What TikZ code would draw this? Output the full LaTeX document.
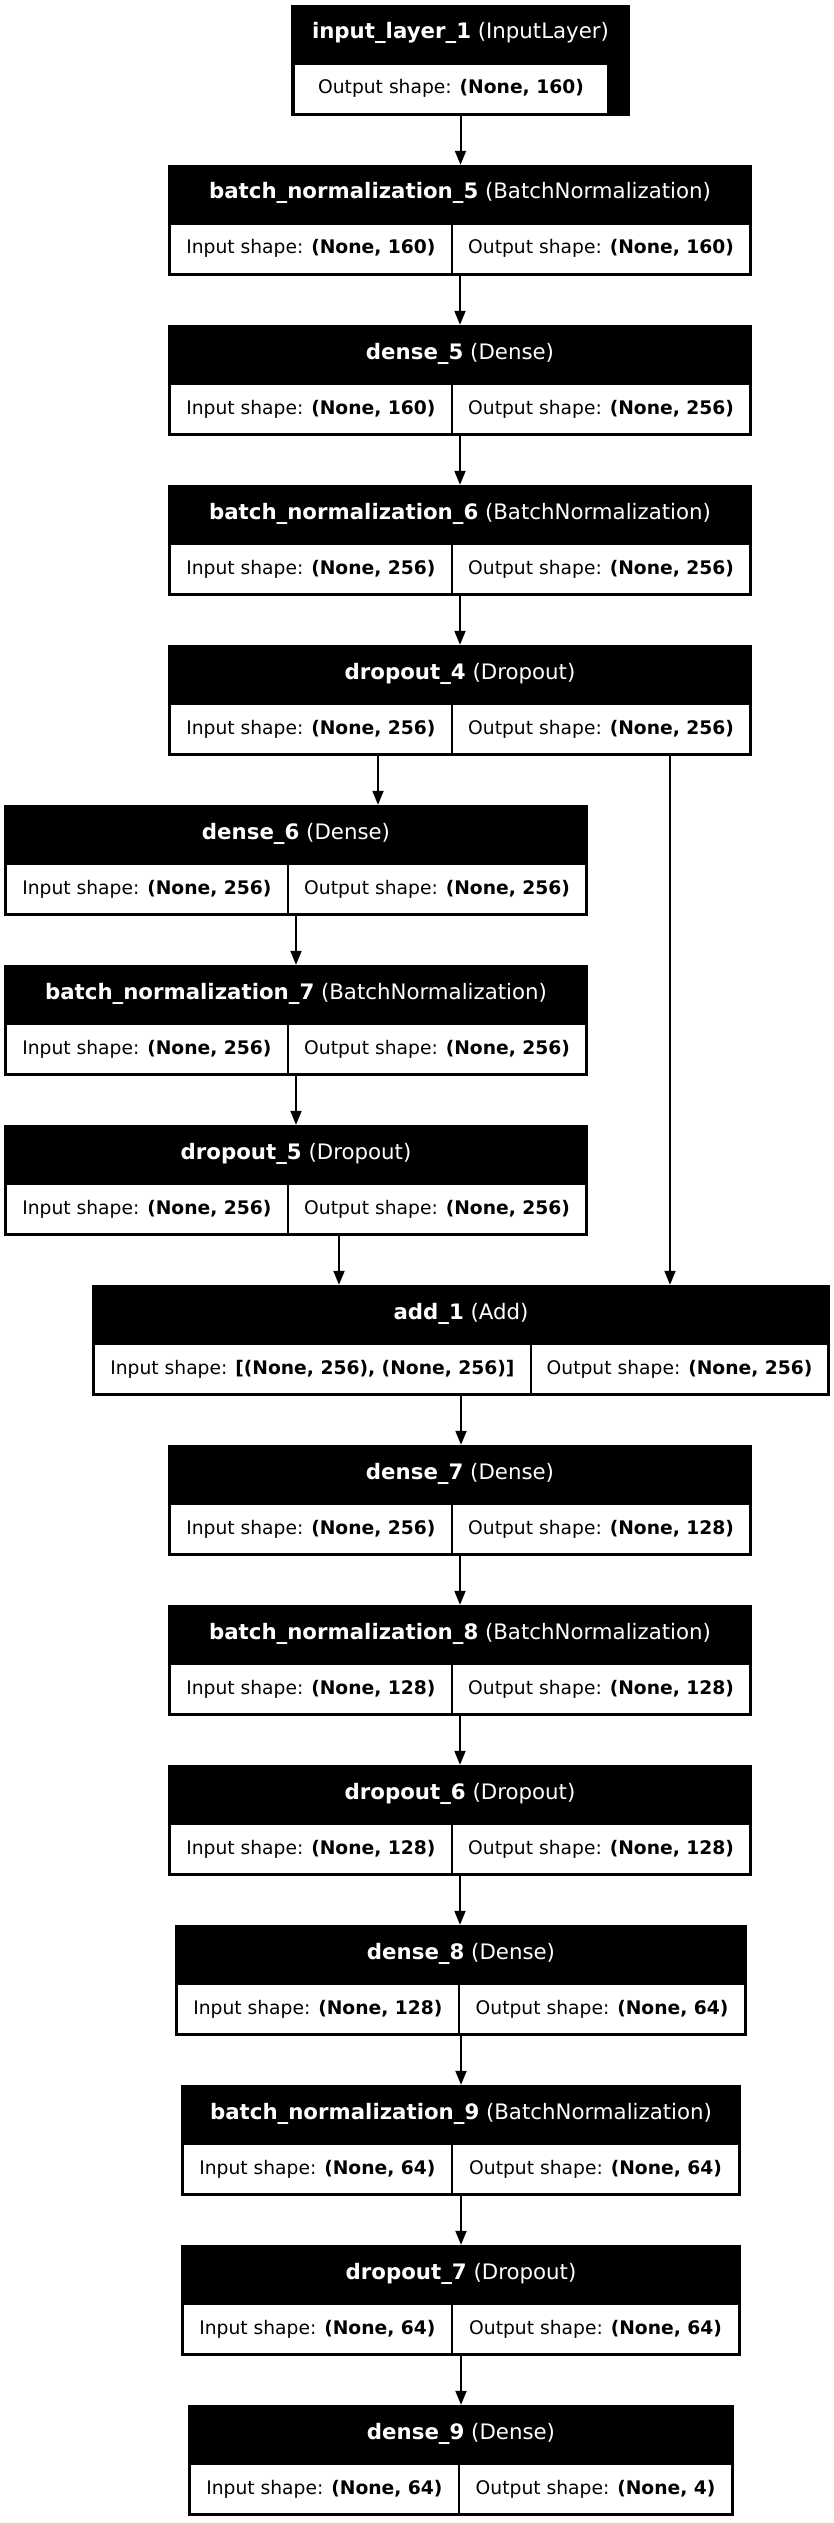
\documentclass[tikz,border=0pt]{standalone}
\usepackage{fontspec}
\setmainfont{DejaVu Sans}
\usetikzlibrary{arrows.meta}

% one keras layer: name, left, right, split, top, layer, type, input, output
\newcommand{\layer}[9]{%
\node[lyr, minimum width={#3-#2}] (#1) at ({(#2+#3)/2},{#5+55.5}) {};
\node[ttl] (#1-t) at ({(#2+#3)/2},{#5+34}) {\textbf{#6} (#7)};
\node[cell, minimum width={#4-1.2-#2-3}] (#1-i) at ({(#2+3+#4-1.2)/2},{#5+84}) {Input shape: \textbf{#8}};
\node[cell, minimum width={#3-3-#4-1.2}] (#1-o) at ({(#4+1.2+#3-3)/2},{#5+84}) {Output shape: \textbf{#9}};
}

\begin{document}
\begin{tikzpicture}[x=1pt,y=-1pt,
  lyr/.style={fill=black, inner sep=0pt, minimum height=111pt},
  ttl/.style={text=white, anchor=base, inner sep=0pt, font=\fontsize{21.3}{24}\selectfont},
  cell/.style={fill=white, inner sep=0pt, minimum height=48pt, text height=14pt, text depth=4pt, font=\fontsize{18.7}{22}\selectfont},
  arr/.style={line width=2pt, -{Triangle[length=14pt,width=11pt]}}]
\useasboundingbox (0,0) rectangle (834,2523);

\node[lyr, minimum width=339] (in1) at (460.5,60.5) {};
\node[ttl] (in1-t) at (460.5,39) {\textbf{input\_layer\_1} (InputLayer)};
\node[cell, minimum width=312] (in1-o) at (451,89) {Output shape: \textbf{(None, 160)}};

\layer{bn5}{168}{752}{452}{165}{batch\_normalization\_5}{BatchNormalization}{(None, 160)}{(None, 160)}
\layer{de5}{168}{752}{452}{325}{dense\_5}{Dense}{(None, 160)}{(None, 256)}
\layer{bn6}{168}{752}{452}{485}{batch\_normalization\_6}{BatchNormalization}{(None, 256)}{(None, 256)}
\layer{dr4}{168}{752}{452}{645}{dropout\_4}{Dropout}{(None, 256)}{(None, 256)}
\layer{de6}{4}{588}{288}{805}{dense\_6}{Dense}{(None, 256)}{(None, 256)}
\layer{bn7}{4}{588}{288}{965}{batch\_normalization\_7}{BatchNormalization}{(None, 256)}{(None, 256)}
\layer{dr5}{4}{588}{288}{1125}{dropout\_5}{Dropout}{(None, 256)}{(None, 256)}
\layer{add1}{92}{830}{531}{1285}{add\_1}{Add}{[(None, 256), (None, 256)]}{(None, 256)}
\layer{de7}{168}{752}{452}{1445}{dense\_7}{Dense}{(None, 256)}{(None, 128)}
\layer{bn8}{168}{752}{452}{1605}{batch\_normalization\_8}{BatchNormalization}{(None, 128)}{(None, 128)}
\layer{dr6}{168}{752}{452}{1765}{dropout\_6}{Dropout}{(None, 128)}{(None, 128)}
\layer{de8}{175}{747}{459}{1925}{dense\_8}{Dense}{(None, 128)}{(None, 64)}
\layer{bn9}{181}{741}{452}{2085}{batch\_normalization\_9}{BatchNormalization}{(None, 64)}{(None, 64)}
\layer{dr7}{181}{741}{452}{2245}{dropout\_7}{Dropout}{(None, 64)}{(None, 64)}
\layer{de9}{188}{734}{459}{2405}{dense\_9}{Dense}{(None, 64)}{(None, 4)}

% straight links
\foreach \a/\b in {in1/bn5,bn5/de5,de5/bn6,bn6/dr4,de6/bn7,bn7/dr5,add1/de7,de7/bn8,bn8/dr6,dr6/de8,de8/bn9,bn9/dr7,dr7/de9}
  \draw[arr] (\a.south) -- (\a.south |- \b.north);

% branch and skip
\draw[arr] ([xshift=-82]dr4.south) -- ([xshift=82]de6.north);
\draw[arr] ([xshift=210]dr4.south) -- ([xshift=209]add1.north);
\draw[arr] ([xshift=43]dr5.south) -- ([xshift=-122]add1.north);
\end{tikzpicture}
\end{document}
